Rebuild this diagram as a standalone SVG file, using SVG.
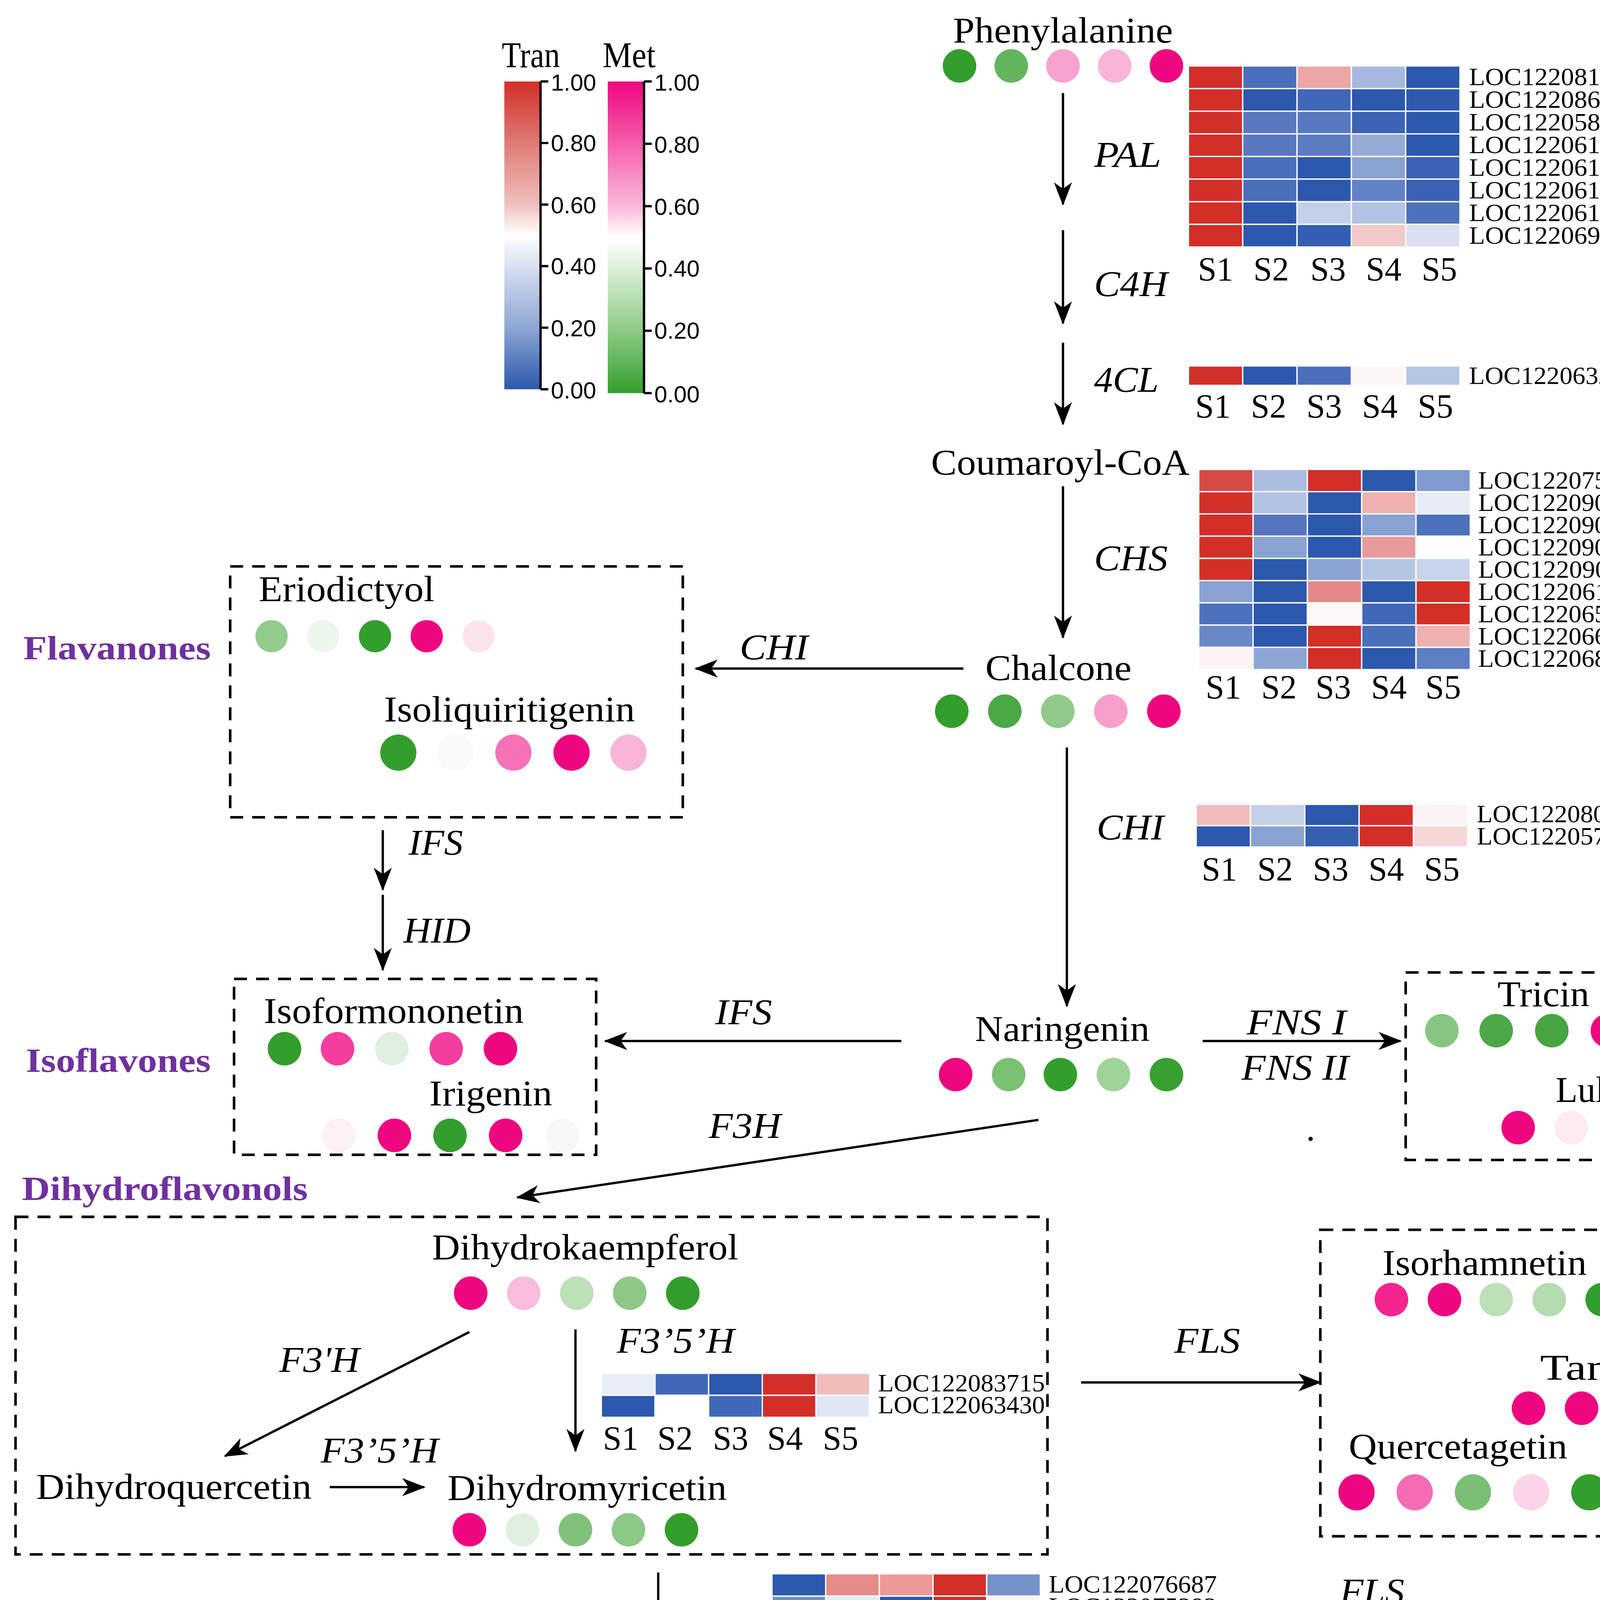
<svg xmlns="http://www.w3.org/2000/svg" width="5128" height="5203" viewBox="0 0 5128 5203">
<defs>
<style>
.t{font-family:"Liberation Serif","Times New Roman",serif;font-size:28px;fill:#000}
.e{font-family:"Liberation Serif","Times New Roman",serif;font-size:28px;font-style:italic;fill:#000}
.g{font-family:"Liberation Serif","Times New Roman",serif;font-size:26px;font-weight:bold;fill:#7030a0}
.loc{font-family:"Liberation Serif","Times New Roman",serif;font-size:19px;fill:#000}
.s{font-family:"Liberation Serif","Times New Roman",serif;font-size:26px;fill:#000;text-anchor:middle}
.n{font-family:"Liberation Sans",Arial,sans-serif;font-size:18px;fill:#000}
.c rect{stroke:#fff;stroke-width:1}
.box{fill:none;stroke:#000;stroke-width:2;stroke-dasharray:10 7}
.ar{fill:none;stroke:#000;stroke-width:1.8;marker-end:url(#ah)}
.ax{stroke:#000;stroke-width:1.8;fill:none}
</style>
<marker id="ah" markerUnits="userSpaceOnUse" markerWidth="18" markerHeight="14" refX="17" refY="7" orient="auto" viewBox="0 0 18 14"><path d="M0,0 L18,7 L0,14 L5,7 z" fill="#000"/></marker>
<linearGradient id="gT" x1="0" y1="0" x2="0" y2="1">
<stop offset="0" stop-color="#d22f29"/><stop offset="0.2" stop-color="#e07a75"/><stop offset="0.4" stop-color="#efc0be"/><stop offset="0.5" stop-color="#ffffff"/><stop offset="0.6" stop-color="#d8dfef"/><stop offset="0.8" stop-color="#8ea6d4"/><stop offset="1" stop-color="#2c58ad"/>
</linearGradient>
<linearGradient id="gM" x1="0" y1="0" x2="0" y2="1">
<stop offset="0" stop-color="#ee0680"/><stop offset="0.2" stop-color="#f55fab"/><stop offset="0.4" stop-color="#f9b8da"/><stop offset="0.5" stop-color="#ffffff"/><stop offset="0.6" stop-color="#dcefda"/><stop offset="0.8" stop-color="#8dca87"/><stop offset="1" stop-color="#349e2c"/>
</linearGradient>
</defs>
<rect width="5128" height="5203" fill="#fff"/>
<g transform="scale(3.3105)">

<!-- Legend -->
<g id="legend">
<text class="t" x="388" y="52" font-size="22" textLength="45" lengthAdjust="spacingAndGlyphs">Tran</text>
<text class="t" x="466" y="52" font-size="22" textLength="41" lengthAdjust="spacingAndGlyphs">Met</text>
<rect x="390" y="63" width="28" height="238" fill="url(#gT)"/>
<rect x="470" y="63" width="28" height="241" fill="url(#gM)"/>
<path class="ax" d="M418,63 V301 M418,63 h6 M418,110.6 h6 M418,158.2 h6 M418,205.8 h6 M418,253.4 h6 M418,301 h6"/>
<path class="ax" d="M498,63 V304 M498,63 h6 M498,111.2 h6 M498,159.4 h6 M498,207.6 h6 M498,255.8 h6 M498,304 h6"/>
<text class="n" x="426" y="70">1.00</text>
<text class="n" x="426" y="117">0.80</text>
<text class="n" x="426" y="165">0.60</text>
<text class="n" x="426" y="212">0.40</text>
<text class="n" x="426" y="260">0.20</text>
<text class="n" x="426" y="308">0.00</text>
<text class="n" x="506" y="70">1.00</text>
<text class="n" x="506" y="118">0.80</text>
<text class="n" x="506" y="166">0.60</text>
<text class="n" x="506" y="214">0.40</text>
<text class="n" x="506" y="262">0.20</text>
<text class="n" x="506" y="311">0.00</text>
</g>

<!-- Connectors -->
<g id="connectors">
<line class="ar" x1="822" y1="72" x2="822" y2="158"/>
<line class="ar" x1="822" y1="178" x2="822" y2="250"/>
<line class="ar" x1="822" y1="265" x2="822" y2="328"/>
<line class="ar" x1="822" y1="376" x2="822" y2="493"/>
<line class="ar" x1="825" y1="578" x2="825" y2="778"/>
<line class="ar" x1="745" y1="517" x2="538" y2="517"/>
<line class="ar" x1="296" y1="642" x2="296" y2="688"/>
<line class="ar" x1="296" y1="692" x2="296" y2="750"/>
<line class="ar" x1="697" y1="805" x2="468" y2="805"/>
<line class="ar" x1="930" y1="805" x2="1083" y2="805"/>
<line class="ar" x1="803" y1="866" x2="400" y2="926"/>
<line class="ar" x1="363" y1="1030" x2="174" y2="1126"/>
<line class="ar" x1="445" y1="1028" x2="445" y2="1122"/>
<line class="ar" x1="255" y1="1150" x2="328" y2="1150"/>
<line class="ar" x1="836" y1="1069" x2="1021" y2="1069"/>
<line class="ar" x1="509" y1="1216" x2="509" y2="1338"/>
<line class="ar" x1="403" y1="1368" x2="227" y2="1367"/>
<line class="ar" x1="606" y1="1368" x2="885" y2="1368"/>
<line class="ar" x1="155" y1="1388" x2="155" y2="1509"/>
<text class="e" x="846" y="129" textLength="52" lengthAdjust="spacingAndGlyphs">PAL</text>
<text class="e" x="846" y="229" textLength="57" lengthAdjust="spacingAndGlyphs">C4H</text>
<text class="e" x="846" y="303" textLength="50" lengthAdjust="spacingAndGlyphs">4CL</text>
<text class="e" x="846" y="441" textLength="57" lengthAdjust="spacingAndGlyphs">CHS</text>
<text class="e" x="572" y="510" textLength="53" lengthAdjust="spacingAndGlyphs">CHI</text>
<text class="e" x="848" y="649" textLength="52" lengthAdjust="spacingAndGlyphs">CHI</text>
<text class="e" x="316" y="661" textLength="42" lengthAdjust="spacingAndGlyphs">IFS</text>
<text class="e" x="312" y="729" textLength="52" lengthAdjust="spacingAndGlyphs">HID</text>
<text class="e" x="553" y="792" textLength="44" lengthAdjust="spacingAndGlyphs">IFS</text>
<text class="e" x="964" y="800" textLength="77" lengthAdjust="spacingAndGlyphs">FNS I</text>
<text class="e" x="960" y="835" textLength="83" lengthAdjust="spacingAndGlyphs">FNS II</text>
<text class="t" x="1010" y="882">.</text>
<text class="e" x="548" y="880" textLength="56" lengthAdjust="spacingAndGlyphs">F3H</text>
<text class="e" x="216" y="1061" textLength="62" lengthAdjust="spacingAndGlyphs">F3'H</text>
<text class="e" x="477" y="1046" textLength="91" lengthAdjust="spacingAndGlyphs">F3’5’H</text>
<text class="e" x="248" y="1131" textLength="91" lengthAdjust="spacingAndGlyphs">F3’5’H</text>
<text class="e" x="908" y="1046" textLength="51" lengthAdjust="spacingAndGlyphs">FLS</text>
<text class="e" x="531" y="1288" textLength="58" lengthAdjust="spacingAndGlyphs">DFR</text>
<text class="e" x="286" y="1349" textLength="54" lengthAdjust="spacingAndGlyphs">ANS</text>
<text class="e" x="731" y="1404" textLength="53" lengthAdjust="spacingAndGlyphs">LAR</text>
<text class="e" x="183" y="1422" textLength="56" lengthAdjust="spacingAndGlyphs">ANR</text>
<text class="e" x="1036" y="1240" textLength="50" lengthAdjust="spacingAndGlyphs">FLS</text>
</g>

<!-- Group boxes and class labels -->
<g id="flavanones">
<rect class="box" x="178" y="438" width="350" height="194"/>
<text class="g" x="18" y="510" textLength="145" lengthAdjust="spacingAndGlyphs">Flavanones</text>
</g>
<g id="isoflavones">
<rect class="box" x="181" y="757" width="280" height="136"/>
<text class="g" x="20" y="829" textLength="143" lengthAdjust="spacingAndGlyphs">Isoflavones</text>
</g>
<g id="flavones">
<rect class="box" x="1087" y="752" width="280" height="145"/>
<text class="g" x="1393" y="828" textLength="112" lengthAdjust="spacingAndGlyphs">Flavones</text>
</g>
<g id="dihydroflavonols">
<rect class="box" x="12" y="941" width="798" height="261"/>
<text class="g" x="17" y="928" textLength="221" lengthAdjust="spacingAndGlyphs">Dihydroflavonols</text>
</g>
<g id="flavonols">
<rect class="box" x="1021" y="951" width="350" height="237"/>
<text class="g" x="1402" y="1071" textLength="122" lengthAdjust="spacingAndGlyphs">Flavonols</text>
</g>

<!-- Compound nodes -->
<g id="phenylalanine">
<text class="t" x="737" y="33" textLength="170" lengthAdjust="spacingAndGlyphs">Phenylalanine</text>
<circle cx="742" cy="51" r="13" fill="#349e2c"/><circle cx="782" cy="51" r="13" fill="#62b55d"/><circle cx="822" cy="51" r="13" fill="#f7a3cf"/><circle cx="862" cy="51" r="13" fill="#f9b4d8"/><circle cx="902" cy="51" r="13" fill="#ee0680"/>
</g>
<g id="coumaroylcoa">
<text class="t" x="720" y="367" textLength="200" lengthAdjust="spacingAndGlyphs">Coumaroyl-CoA</text>
</g>
<g id="chalcone">
<text class="t" x="762" y="526" textLength="113" lengthAdjust="spacingAndGlyphs">Chalcone</text>
<circle cx="736" cy="550" r="13" fill="#349e2c"/><circle cx="777" cy="550" r="13" fill="#4ba846"/><circle cx="818" cy="550" r="13" fill="#90c98a"/><circle cx="859" cy="550" r="13" fill="#f79fcb"/><circle cx="900" cy="550" r="13" fill="#ee0680"/>
</g>
<g id="eriodictyol">
<text class="t" x="200" y="465" textLength="136" lengthAdjust="spacingAndGlyphs">Eriodictyol</text>
<circle cx="210" cy="492" r="12.5" fill="#92cb8c"/><circle cx="250" cy="492" r="12.5" fill="#edf6ec"/><circle cx="290" cy="492" r="12.5" fill="#349e2c"/><circle cx="330" cy="492" r="12.5" fill="#ee0680"/><circle cx="370" cy="492" r="12.5" fill="#fde3f0"/>
</g>
<g id="isoliquiritigenin">
<text class="t" x="297" y="558" textLength="194" lengthAdjust="spacingAndGlyphs">Isoliquiritigenin</text>
<circle cx="308" cy="582" r="14" fill="#349e2c"/><circle cx="352" cy="582" r="14" fill="#f7fbf6"/><circle cx="397" cy="582" r="14" fill="#f572b8"/><circle cx="442" cy="582" r="14" fill="#ee0680"/><circle cx="486" cy="582" r="14" fill="#f9b5d8"/>
</g>
<g id="naringenin">
<text class="t" x="754" y="805" textLength="135" lengthAdjust="spacingAndGlyphs">Naringenin</text>
<circle cx="739" cy="831" r="13" fill="#ee0680"/><circle cx="780" cy="831" r="13" fill="#7bc175"/><circle cx="820" cy="831" r="13" fill="#349e2c"/><circle cx="861" cy="831" r="13" fill="#9fd499"/><circle cx="902" cy="831" r="13" fill="#38a030"/>
</g>
<g id="isoformononetin">
<text class="t" x="204" y="791" textLength="201" lengthAdjust="spacingAndGlyphs">Isoformononetin</text>
<circle cx="220" cy="811" r="13" fill="#349e2c"/><circle cx="261" cy="811" r="13" fill="#f53da0"/><circle cx="303" cy="811" r="13" fill="#e0f0de"/><circle cx="345" cy="811" r="13" fill="#f53da0"/><circle cx="387" cy="811" r="13" fill="#ee0680"/>
</g>
<g id="irigenin">
<text class="t" x="332" y="855" textLength="95" lengthAdjust="spacingAndGlyphs">Irigenin</text>
<circle cx="262" cy="878" r="13" fill="#fdf0f6"/><circle cx="305" cy="878" r="13" fill="#ee0680"/><circle cx="348" cy="878" r="13" fill="#349e2c"/><circle cx="391" cy="878" r="13" fill="#ee0680"/><circle cx="435" cy="878" r="13" fill="#f4f9f3"/>
</g>
<g id="tricin">
<text class="t" x="1158" y="778" textLength="71" lengthAdjust="spacingAndGlyphs">Tricin</text>
<circle cx="1115" cy="797" r="13" fill="#87c681"/><circle cx="1157" cy="797" r="13" fill="#4ba846"/><circle cx="1200" cy="797" r="13" fill="#47a542"/><circle cx="1243" cy="797" r="13" fill="#ee0680"/><circle cx="1286" cy="797" r="13" fill="#359f2d"/>
</g>
<g id="luleolin">
<text class="t" x="1203" y="852" textLength="94" lengthAdjust="spacingAndGlyphs">Luleolin</text>
<circle cx="1174" cy="872" r="13" fill="#ee0680"/><circle cx="1215" cy="872" r="13" fill="#fcebf3"/><circle cx="1256" cy="872" r="13" fill="#7fc27a"/><circle cx="1297" cy="872" r="13" fill="#349e2c"/><circle cx="1338" cy="872" r="13" fill="#47a542"/>
</g>
<g id="dihydrokaempferol">
<text class="t" x="334" y="974" textLength="237" lengthAdjust="spacingAndGlyphs">Dihydrokaempferol</text>
<circle cx="364" cy="1000" r="13" fill="#ee0680"/><circle cx="405" cy="1000" r="13" fill="#f9bcdd"/><circle cx="446" cy="1000" r="13" fill="#bde0b8"/><circle cx="487" cy="1000" r="13" fill="#8dc887"/><circle cx="528" cy="1000" r="13" fill="#349e2c"/>
</g>
<g id="dihydroquercetin">
<text class="t" x="28" y="1159" textLength="213" lengthAdjust="spacingAndGlyphs">Dihydroquercetin</text>
</g>
<g id="dihydromyricetin">
<text class="t" x="346" y="1160" textLength="216" lengthAdjust="spacingAndGlyphs">Dihydromyricetin</text>
<circle cx="363" cy="1183" r="13" fill="#ee0680"/><circle cx="404" cy="1183" r="13" fill="#e0f0de"/><circle cx="445" cy="1183" r="13" fill="#7fc27a"/><circle cx="486" cy="1183" r="13" fill="#8cc886"/><circle cx="527" cy="1183" r="13" fill="#349e2c"/>
</g>
<g id="isorhamnetin">
<text class="t" x="1069" y="986" textLength="158" lengthAdjust="spacingAndGlyphs">Isorhamnetin</text>
<circle cx="1076" cy="1005" r="13" fill="#f3258f"/><circle cx="1117" cy="1005" r="13" fill="#ee0680"/><circle cx="1157" cy="1005" r="13" fill="#bde0b8"/><circle cx="1198" cy="1005" r="13" fill="#b5dcb0"/><circle cx="1239" cy="1005" r="13" fill="#349e2c"/>
</g>
<g id="tamarixetin">
<text class="t" x="1191" y="1067" textLength="175" lengthAdjust="spacingAndGlyphs">Tamarixetin</text>
<circle cx="1182" cy="1089" r="13" fill="#ee0680"/><circle cx="1223" cy="1089" r="13" fill="#ee0680"/><circle cx="1264" cy="1089" r="13" fill="#8dc887"/><circle cx="1305" cy="1089" r="13" fill="#f9a3ce"/><circle cx="1346" cy="1089" r="13" fill="#349e2c"/>
</g>
<g id="quercetagetin">
<text class="t" x="1043" y="1128" textLength="169" lengthAdjust="spacingAndGlyphs">Quercetagetin</text>
<circle cx="1049" cy="1154" r="14" fill="#ee0680"/><circle cx="1094" cy="1154" r="14" fill="#f56bb4"/><circle cx="1139" cy="1154" r="14" fill="#7abf74"/><circle cx="1184" cy="1154" r="14" fill="#fcd3e8"/><circle cx="1229" cy="1154" r="14" fill="#349e2c"/>
</g>
<g id="leucocyanidin">
<text class="t" x="416" y="1363" textLength="180" lengthAdjust="spacingAndGlyphs">Leucocyanidin</text>
<circle cx="421" cy="1392" r="13" fill="#ee0680"/><circle cx="462" cy="1392" r="13" fill="#ee0680"/><circle cx="503" cy="1392" r="13" fill="#e0f0de"/><circle cx="544" cy="1392" r="13" fill="#349e2c"/><circle cx="585" cy="1392" r="13" fill="#4ea849"/>
</g>
<g id="cyanidin">
<text class="t" x="98" y="1376" textLength="109" lengthAdjust="spacingAndGlyphs">Cyanidin</text>
</g>
<g id="catechin">
<text class="t" x="893" y="1376" textLength="186" lengthAdjust="spacingAndGlyphs">(+/−)-Catechin</text>
<circle cx="902" cy="1399" r="13" fill="#ee0680"/><circle cx="943" cy="1399" r="13" fill="#87c681"/><circle cx="983" cy="1399" r="13" fill="#47a542"/><circle cx="1023" cy="1399" r="13" fill="#359f2d"/><circle cx="1063" cy="1399" r="13" fill="#359f2d"/>
</g>
<g id="epicatechin">
<text class="t" x="85" y="1546" textLength="141" lengthAdjust="spacingAndGlyphs">Epicatechin</text>
</g>

<!-- Heatmaps -->
<g id="hm-pal" class="c">
<rect x="919" y="51" width="42" height="17.5" fill="#d22f29"/><rect x="961" y="51" width="42" height="17.5" fill="#4a70bb"/><rect x="1003" y="51" width="42" height="17.5" fill="#eba6a5"/><rect x="1045" y="51" width="42" height="17.5" fill="#a6b8df"/><rect x="1087" y="51" width="42" height="17.5" fill="#2c58ad"/>
<rect x="919" y="68.5" width="42" height="17.5" fill="#d22f29"/><rect x="961" y="68.5" width="42" height="17.5" fill="#2c58ad"/><rect x="1003" y="68.5" width="42" height="17.5" fill="#4168b8"/><rect x="1045" y="68.5" width="42" height="17.5" fill="#2c58ad"/><rect x="1087" y="68.5" width="42" height="17.5" fill="#2e5aae"/>
<rect x="919" y="86" width="42" height="17.5" fill="#d22f29"/><rect x="961" y="86" width="42" height="17.5" fill="#5878c0"/><rect x="1003" y="86" width="42" height="17.5" fill="#5878c0"/><rect x="1045" y="86" width="42" height="17.5" fill="#3c63b4"/><rect x="1087" y="86" width="42" height="17.5" fill="#2c58ad"/>
<rect x="919" y="103.5" width="42" height="17.5" fill="#d22f29"/><rect x="961" y="103.5" width="42" height="17.5" fill="#5878c0"/><rect x="1003" y="103.5" width="42" height="17.5" fill="#5b7cc1"/><rect x="1045" y="103.5" width="42" height="17.5" fill="#95abd6"/><rect x="1087" y="103.5" width="42" height="17.5" fill="#2c58ad"/>
<rect x="919" y="121" width="42" height="17.5" fill="#d22f29"/><rect x="961" y="121" width="42" height="17.5" fill="#4a6fbb"/><rect x="1003" y="121" width="42" height="17.5" fill="#2c58ad"/><rect x="1045" y="121" width="42" height="17.5" fill="#8aa2d2"/><rect x="1087" y="121" width="42" height="17.5" fill="#3a61b3"/>
<rect x="919" y="138.5" width="42" height="17.5" fill="#d22f29"/><rect x="961" y="138.5" width="42" height="17.5" fill="#4a6fbb"/><rect x="1003" y="138.5" width="42" height="17.5" fill="#2c58ad"/><rect x="1045" y="138.5" width="42" height="17.5" fill="#6182c4"/><rect x="1087" y="138.5" width="42" height="17.5" fill="#3a61b3"/>
<rect x="919" y="156" width="42" height="17.5" fill="#d22f29"/><rect x="961" y="156" width="42" height="17.5" fill="#2c58ad"/><rect x="1003" y="156" width="42" height="17.5" fill="#c4d0e8"/><rect x="1045" y="156" width="42" height="17.5" fill="#b3c3e3"/><rect x="1087" y="156" width="42" height="17.5" fill="#4d72bc"/>
<rect x="919" y="173.5" width="42" height="17.5" fill="#d22f29"/><rect x="961" y="173.5" width="42" height="17.5" fill="#2c58ad"/><rect x="1003" y="173.5" width="42" height="17.5" fill="#345eb1"/><rect x="1045" y="173.5" width="42" height="17.5" fill="#f2c9c8"/><rect x="1087" y="173.5" width="42" height="17.5" fill="#dae0ef"/>
<text class="loc" x="1136" y="66" textLength="132" lengthAdjust="spacingAndGlyphs">LOC122081057</text>
<text class="loc" x="1136" y="83.5" textLength="132" lengthAdjust="spacingAndGlyphs">LOC122086992</text>
<text class="loc" x="1136" y="101" textLength="132" lengthAdjust="spacingAndGlyphs">LOC122058157</text>
<text class="loc" x="1136" y="118.5" textLength="132" lengthAdjust="spacingAndGlyphs">LOC122061804</text>
<text class="loc" x="1136" y="136" textLength="132" lengthAdjust="spacingAndGlyphs">LOC122061512</text>
<text class="loc" x="1136" y="153.5" textLength="132" lengthAdjust="spacingAndGlyphs">LOC122061515</text>
<text class="loc" x="1136" y="171" textLength="132" lengthAdjust="spacingAndGlyphs">LOC122061513</text>
<text class="loc" x="1136" y="188.5" textLength="132" lengthAdjust="spacingAndGlyphs">LOC122069916</text>
<text class="s" x="940" y="217">S1</text><text class="s" x="983" y="217">S2</text><text class="s" x="1027" y="217">S3</text><text class="s" x="1070" y="217">S4</text><text class="s" x="1113" y="217">S5</text>
</g>

<g id="hm-4cl" class="c">
<rect x="919" y="283" width="42" height="15" fill="#d22f29"/><rect x="961" y="283" width="42" height="15" fill="#2c58ad"/><rect x="1003" y="283" width="42" height="15" fill="#4a6fbb"/><rect x="1045" y="283" width="42" height="15" fill="#fdf6f6"/><rect x="1087" y="283" width="42" height="15" fill="#b6c5e4"/>
<text class="loc" x="1136" y="297" textLength="130" lengthAdjust="spacingAndGlyphs">LOC122063272</text>
<text class="s" x="938" y="323">S1</text><text class="s" x="981" y="323">S2</text><text class="s" x="1024" y="323">S3</text><text class="s" x="1067" y="323">S4</text><text class="s" x="1110" y="323">S5</text>
</g>

<g id="hm-chs" class="c">
<rect x="927" y="363" width="42" height="17.2" fill="#d64b46"/><rect x="969" y="363" width="42" height="17.2" fill="#adbde1"/><rect x="1011" y="363" width="42" height="17.2" fill="#d22f29"/><rect x="1053" y="363" width="42" height="17.2" fill="#2c58ad"/><rect x="1095" y="363" width="42" height="17.2" fill="#809bcf"/>
<rect x="927" y="380.2" width="42" height="17.2" fill="#d22f29"/><rect x="969" y="380.2" width="42" height="17.2" fill="#b2c2e3"/><rect x="1011" y="380.2" width="42" height="17.2" fill="#2c58ad"/><rect x="1053" y="380.2" width="42" height="17.2" fill="#eeb0b0"/><rect x="1095" y="380.2" width="42" height="17.2" fill="#e8ecf6"/>
<rect x="927" y="397.4" width="42" height="17.2" fill="#d22f29"/><rect x="969" y="397.4" width="42" height="17.2" fill="#5475be"/><rect x="1011" y="397.4" width="42" height="17.2" fill="#2c58ad"/><rect x="1053" y="397.4" width="42" height="17.2" fill="#8aa2d2"/><rect x="1095" y="397.4" width="42" height="17.2" fill="#4d72bc"/>
<rect x="927" y="414.6" width="42" height="17.2" fill="#d22f29"/><rect x="969" y="414.6" width="42" height="17.2" fill="#8aa2d2"/><rect x="1011" y="414.6" width="42" height="17.2" fill="#2c58ad"/><rect x="1053" y="414.6" width="42" height="17.2" fill="#e99a9a"/><rect x="1095" y="414.6" width="42" height="17.2" fill="#fefefe"/>
<rect x="927" y="431.8" width="42" height="17.2" fill="#d22f29"/><rect x="969" y="431.8" width="42" height="17.2" fill="#2c58ad"/><rect x="1011" y="431.8" width="42" height="17.2" fill="#8ba4d3"/><rect x="1053" y="431.8" width="42" height="17.2" fill="#b6c5e4"/><rect x="1095" y="431.8" width="42" height="17.2" fill="#c7d3ea"/>
<rect x="927" y="449" width="42" height="17.2" fill="#8aa2d2"/><rect x="969" y="449" width="42" height="17.2" fill="#2c58ad"/><rect x="1011" y="449" width="42" height="17.2" fill="#e38a88"/><rect x="1053" y="449" width="42" height="17.2" fill="#2c58ad"/><rect x="1095" y="449" width="42" height="17.2" fill="#d22f29"/>
<rect x="927" y="466.2" width="42" height="17.2" fill="#4d72bc"/><rect x="969" y="466.2" width="42" height="17.2" fill="#2c58ad"/><rect x="1011" y="466.2" width="42" height="17.2" fill="#fdf8f7"/><rect x="1053" y="466.2" width="42" height="17.2" fill="#4168b8"/><rect x="1095" y="466.2" width="42" height="17.2" fill="#d22f29"/>
<rect x="927" y="483.4" width="42" height="17.2" fill="#6a88c7"/><rect x="969" y="483.4" width="42" height="17.2" fill="#2c58ad"/><rect x="1011" y="483.4" width="42" height="17.2" fill="#d22f29"/><rect x="1053" y="483.4" width="42" height="17.2" fill="#4a6fbb"/><rect x="1095" y="483.4" width="42" height="17.2" fill="#eeb0b0"/>
<rect x="927" y="500.6" width="42" height="17.2" fill="#fdf3f3"/><rect x="969" y="500.6" width="42" height="17.2" fill="#8ea6d4"/><rect x="1011" y="500.6" width="42" height="17.2" fill="#d22f29"/><rect x="1053" y="500.6" width="42" height="17.2" fill="#2c58ad"/><rect x="1095" y="500.6" width="42" height="17.2" fill="#5e7fc3"/>
<text class="loc" x="1143" y="378" textLength="130" lengthAdjust="spacingAndGlyphs">LOC122075718</text>
<text class="loc" x="1143" y="395.2" textLength="130" lengthAdjust="spacingAndGlyphs">LOC122090001</text>
<text class="loc" x="1143" y="412.4" textLength="130" lengthAdjust="spacingAndGlyphs">LOC122090914</text>
<text class="loc" x="1143" y="429.6" textLength="130" lengthAdjust="spacingAndGlyphs">LOC122090912</text>
<text class="loc" x="1143" y="446.8" textLength="130" lengthAdjust="spacingAndGlyphs">LOC122090911</text>
<text class="loc" x="1143" y="464" textLength="130" lengthAdjust="spacingAndGlyphs">LOC122061186</text>
<text class="loc" x="1143" y="481.2" textLength="130" lengthAdjust="spacingAndGlyphs">LOC122065151</text>
<text class="loc" x="1143" y="498.4" textLength="130" lengthAdjust="spacingAndGlyphs">LOC122066380</text>
<text class="loc" x="1143" y="515.6" textLength="130" lengthAdjust="spacingAndGlyphs">LOC122068042</text>
<text class="s" x="946" y="540">S1</text><text class="s" x="989" y="540">S2</text><text class="s" x="1031" y="540">S3</text><text class="s" x="1074" y="540">S4</text><text class="s" x="1116" y="540">S5</text>
</g>

<g id="hm-chi" class="c">
<rect x="925" y="622" width="42" height="16.5" fill="#f0bdbc"/><rect x="967" y="622" width="42" height="16.5" fill="#c4d0e8"/><rect x="1009" y="622" width="42" height="16.5" fill="#2c58ad"/><rect x="1051" y="622" width="42" height="16.5" fill="#d22f29"/><rect x="1093" y="622" width="42" height="16.5" fill="#fcf3f3"/>
<rect x="925" y="638.5" width="42" height="16.5" fill="#2c58ad"/><rect x="967" y="638.5" width="42" height="16.5" fill="#8aa2d2"/><rect x="1009" y="638.5" width="42" height="16.5" fill="#3460b2"/><rect x="1051" y="638.5" width="42" height="16.5" fill="#d22f29"/><rect x="1093" y="638.5" width="42" height="16.5" fill="#f6d7d6"/>
<text class="loc" x="1142" y="636" textLength="130" lengthAdjust="spacingAndGlyphs">LOC122080712</text>
<text class="loc" x="1142" y="653" textLength="130" lengthAdjust="spacingAndGlyphs">LOC122057215</text>
<text class="s" x="943" y="681">S1</text><text class="s" x="986" y="681">S2</text><text class="s" x="1029" y="681">S3</text><text class="s" x="1072" y="681">S4</text><text class="s" x="1115" y="681">S5</text>
</g>

<g id="hm-f35h" class="c">
<rect x="465" y="1062" width="41.5" height="17" fill="#e9edf7"/><rect x="506.5" y="1062" width="41.5" height="17" fill="#4168b8"/><rect x="548" y="1062" width="41.5" height="17" fill="#2c58ad"/><rect x="589.5" y="1062" width="41.5" height="17" fill="#d22f29"/><rect x="631" y="1062" width="41.5" height="17" fill="#f0bcbb"/>
<rect x="465" y="1079" width="41.5" height="17" fill="#2c58ad"/><rect x="506.5" y="1079" width="41.5" height="17" fill="#ffffff"/><rect x="548" y="1079" width="41.5" height="17" fill="#4168b8"/><rect x="589.5" y="1079" width="41.5" height="17" fill="#d22f29"/><rect x="631" y="1079" width="41.5" height="17" fill="#dfe5f3"/>
<text class="loc" x="679" y="1076" font-size="17" textLength="129" lengthAdjust="spacingAndGlyphs">LOC122083715</text>
<text class="loc" x="679" y="1093" font-size="17" textLength="129" lengthAdjust="spacingAndGlyphs">LOC122063430</text>
<text class="s" x="480" y="1121" font-size="25">S1</text><text class="s" x="522" y="1121" font-size="25">S2</text><text class="s" x="565" y="1121" font-size="25">S3</text><text class="s" x="607" y="1121" font-size="25">S4</text><text class="s" x="650" y="1121" font-size="25">S5</text>
</g>

<g id="hm-dfr" class="c">
<rect x="597" y="1217" width="41.5" height="17.3" fill="#2c58ad"/><rect x="638.5" y="1217" width="41.5" height="17.3" fill="#e58b88"/><rect x="680" y="1217" width="41.5" height="17.3" fill="#eb9a98"/><rect x="721.5" y="1217" width="41.5" height="17.3" fill="#d22f29"/><rect x="763" y="1217" width="41.5" height="17.3" fill="#7491c9"/>
<rect x="597" y="1234.3" width="41.5" height="17.3" fill="#718ec8"/><rect x="638.5" y="1234.3" width="41.5" height="17.3" fill="#e4e9f5"/><rect x="680" y="1234.3" width="41.5" height="17.3" fill="#2c58ad"/><rect x="721.5" y="1234.3" width="41.5" height="17.3" fill="#d22f29"/><rect x="763" y="1234.3" width="41.5" height="17.3" fill="#fdf4f3"/>
<rect x="597" y="1251.6" width="41.5" height="17.3" fill="#7491c9"/><rect x="638.5" y="1251.6" width="41.5" height="17.3" fill="#9db1da"/><rect x="680" y="1251.6" width="41.5" height="17.3" fill="#b6c5e4"/><rect x="721.5" y="1251.6" width="41.5" height="17.3" fill="#d22f29"/><rect x="763" y="1251.6" width="41.5" height="17.3" fill="#2c58ad"/>
<rect x="597" y="1268.9" width="41.5" height="17.3" fill="#ffffff"/><rect x="638.5" y="1268.9" width="41.5" height="17.3" fill="#d22f29"/><rect x="680" y="1268.9" width="41.5" height="17.3" fill="#e58684"/><rect x="721.5" y="1268.9" width="41.5" height="17.3" fill="#bccbe6"/><rect x="763" y="1268.9" width="41.5" height="17.3" fill="#2c58ad"/>
<rect x="597" y="1286.2" width="41.5" height="17.3" fill="#2c58ad"/><rect x="638.5" y="1286.2" width="41.5" height="17.3" fill="#e58986"/><rect x="680" y="1286.2" width="41.5" height="17.3" fill="#cfdaee"/><rect x="721.5" y="1286.2" width="41.5" height="17.3" fill="#d22f29"/><rect x="763" y="1286.2" width="41.5" height="17.3" fill="#b9c8e5"/>
<rect x="597" y="1303.5" width="41.5" height="17.3" fill="#d22f29"/><rect x="638.5" y="1303.5" width="41.5" height="17.3" fill="#2f5aae"/><rect x="680" y="1303.5" width="41.5" height="17.3" fill="#305cb0"/><rect x="721.5" y="1303.5" width="41.5" height="17.3" fill="#5878c0"/><rect x="763" y="1303.5" width="41.5" height="17.3" fill="#2c58ad"/>
<rect x="597" y="1320.8" width="41.5" height="17.3" fill="#d22f29"/><rect x="638.5" y="1320.8" width="41.5" height="17.3" fill="#d94e4a"/><rect x="680" y="1320.8" width="41.5" height="17.3" fill="#fcecec"/><rect x="721.5" y="1320.8" width="41.5" height="17.3" fill="#efb8b7"/><rect x="763" y="1320.8" width="41.5" height="17.3" fill="#2c58ad"/>
<text class="loc" x="811" y="1231.5" textLength="130" lengthAdjust="spacingAndGlyphs">LOC122076687</text>
<text class="loc" x="811" y="1248.8" textLength="130" lengthAdjust="spacingAndGlyphs">LOC122075392</text>
<text class="loc" x="811" y="1266.1" textLength="130" lengthAdjust="spacingAndGlyphs">LOC122086119</text>
<text class="loc" x="811" y="1283.4" textLength="130" lengthAdjust="spacingAndGlyphs">LOC122086459</text>
<text class="loc" x="811" y="1300.7" textLength="130" lengthAdjust="spacingAndGlyphs">LOC122070219</text>
<text class="loc" x="811" y="1318" textLength="130" lengthAdjust="spacingAndGlyphs">LOC122070773</text>
<text class="loc" x="811" y="1335.3" textLength="130" lengthAdjust="spacingAndGlyphs">LOC122070775</text>
<text class="s" x="618" y="1363">S1</text><text class="s" x="660" y="1363">S2</text><text class="s" x="703" y="1363">S3</text><text class="s" x="746" y="1363">S4</text><text class="s" x="790" y="1363">S5</text>
</g>

<g id="hm-fls" class="c">
<rect x="1022" y="1251" width="44.4" height="18" fill="#d22f29"/><rect x="1066.4" y="1251" width="44.4" height="18" fill="#8aa2d2"/><rect x="1110.8" y="1251" width="44.4" height="18" fill="#2c58ad"/><rect x="1155.2" y="1251" width="44.4" height="18" fill="#eeb0b0"/><rect x="1199.6" y="1251" width="44.4" height="18" fill="#f4cfcf"/>
<rect x="1022" y="1269" width="44.4" height="18" fill="#2c58ad"/><rect x="1066.4" y="1269" width="44.4" height="18" fill="#d22f29"/><rect x="1110.8" y="1269" width="44.4" height="18" fill="#8aa2d2"/><rect x="1155.2" y="1269" width="44.4" height="18" fill="#9bafda"/><rect x="1199.6" y="1269" width="44.4" height="18" fill="#5e7fc3"/>
<rect x="1022" y="1287" width="44.4" height="18" fill="#2c58ad"/><rect x="1066.4" y="1287" width="44.4" height="18" fill="#d22f29"/><rect x="1110.8" y="1287" width="44.4" height="18" fill="#718ec8"/><rect x="1155.2" y="1287" width="44.4" height="18" fill="#6182c4"/><rect x="1199.6" y="1287" width="44.4" height="18" fill="#d53e3a"/>
<text class="loc" x="1252" y="1266" textLength="139" lengthAdjust="spacingAndGlyphs">LOC122076177</text>
<text class="loc" x="1252" y="1284" textLength="139" lengthAdjust="spacingAndGlyphs">LOC122075321</text>
<text class="loc" x="1252" y="1302" textLength="139" lengthAdjust="spacingAndGlyphs">LOC122076036</text>
<text class="s" x="1040" y="1331" font-size="27">S1</text><text class="s" x="1085" y="1331" font-size="27">S2</text><text class="s" x="1131" y="1331" font-size="27">S3</text><text class="s" x="1176" y="1331" font-size="27">S4</text><text class="s" x="1222" y="1331" font-size="27">S5</text>
</g>

<g id="hm-anr" class="c">
<rect x="170" y="1428" width="42.4" height="17" fill="#ffffff"/><rect x="212.4" y="1428" width="42.4" height="17" fill="#e0706b"/><rect x="254.8" y="1428" width="42.4" height="17" fill="#d22f29"/><rect x="297.2" y="1428" width="42.4" height="17" fill="#fae6e6"/><rect x="339.6" y="1428" width="42.4" height="17" fill="#2c58ad"/>
<rect x="170" y="1445" width="42.4" height="17" fill="#2c58ad"/><rect x="212.4" y="1445" width="42.4" height="17" fill="#f0b5b5"/><rect x="254.8" y="1445" width="42.4" height="17" fill="#d8dff0"/><rect x="297.2" y="1445" width="42.4" height="17" fill="#fbfcfe"/><rect x="339.6" y="1445" width="42.4" height="17" fill="#d22f29"/>
<text class="loc" x="390" y="1442" textLength="133" lengthAdjust="spacingAndGlyphs">LOC122073430</text>
<text class="loc" x="390" y="1459" textLength="133" lengthAdjust="spacingAndGlyphs">LOC122073408</text>
<text class="s" x="190" y="1489">S1</text><text class="s" x="233" y="1489">S2</text><text class="s" x="276" y="1489">S3</text><text class="s" x="319" y="1489">S4</text><text class="s" x="362" y="1489">S5</text>
</g>

<g id="hm-lar" class="c">
<rect x="626" y="1429" width="34" height="17" fill="#2c58ad"/><rect x="660" y="1429" width="34" height="17" fill="#d22f29"/><rect x="694" y="1429" width="34" height="17" fill="#d3dcee"/><rect x="728" y="1429" width="34" height="17" fill="#d63e3a"/><rect x="762" y="1429" width="34" height="17" fill="#dc605c"/>
<rect x="626" y="1446" width="34" height="17" fill="#2c58ad"/><rect x="660" y="1446" width="34" height="17" fill="#eeadad"/><rect x="694" y="1446" width="34" height="17" fill="#d3dcee"/><rect x="728" y="1446" width="34" height="17" fill="#e1e6f4"/><rect x="762" y="1446" width="34" height="17" fill="#d22f29"/>
<text class="loc" x="803" y="1443" textLength="141" lengthAdjust="spacingAndGlyphs">LOC122084111</text>
<text class="loc" x="803" y="1460" textLength="141" lengthAdjust="spacingAndGlyphs">LOC122080354</text>
<text class="s" x="638" y="1485" font-size="21">S1</text><text class="s" x="673" y="1485" font-size="21">S2</text><text class="s" x="709" y="1485" font-size="21">S3</text><text class="s" x="744" y="1485" font-size="21">S4</text><text class="s" x="780" y="1485" font-size="21">S5</text>
</g>

</g>
</svg>
